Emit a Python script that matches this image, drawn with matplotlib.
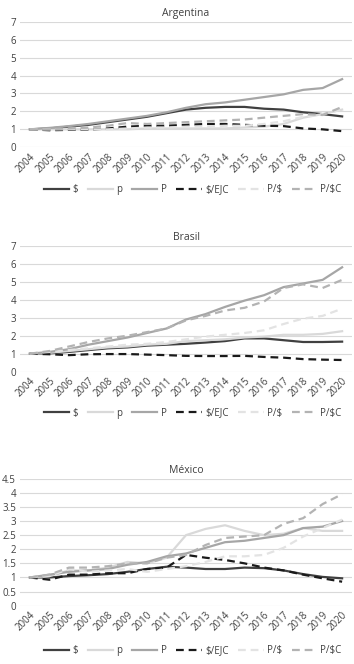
import matplotlib.pyplot as plt

plt.rcParams['font.family'] = ['Open Sans', 'DejaVu Sans']

years = [str(y) for y in range(2004, 2021)]
labels = ['$', 'p', 'P', '$/EJC', 'P/$', 'P/$C']

# Argentina
arg_dol = [1.0, 1.05, 1.15, 1.25, 1.4, 1.55, 1.7, 1.9, 2.1, 2.2, 2.25, 2.25, 2.15, 2.1, 1.95, 1.85, 1.72]
arg_p = [1.0, 1.0, 1.0, 1.0, 1.0, 1.0, 1.05, 1.05, 1.05, 1.05, 1.05, 1.1, 1.15, 1.3, 1.65, 1.85, 2.1]
arg_P = [1.0, 1.08, 1.18, 1.3, 1.45, 1.6, 1.75, 1.95, 2.2, 2.4, 2.5, 2.65, 2.8, 2.95, 3.2, 3.3, 3.8]
arg_ejc = [1.0, 0.95, 0.97, 0.98, 1.05, 1.15, 1.2, 1.2, 1.25, 1.3, 1.3, 1.25, 1.2, 1.18, 1.05, 1.0, 0.9]
arg_pd = [1.0, 1.0, 1.0, 1.0, 1.0, 1.05, 1.1, 1.1, 1.15, 1.15, 1.2, 1.2, 1.3, 1.45, 1.7, 1.85, 2.1]
arg_pdc = [1.0, 1.0, 1.05, 1.1, 1.2, 1.35, 1.3, 1.35, 1.4, 1.45, 1.5, 1.55, 1.65, 1.75, 1.85, 1.8, 2.25]

# Brasil
bra_dol = [1.0, 1.02, 1.1, 1.2, 1.3, 1.35, 1.45, 1.5, 1.55, 1.62, 1.7, 1.85, 1.85, 1.75, 1.65, 1.65, 1.67]
bra_p = [1.0, 1.05, 1.15, 1.25, 1.35, 1.4, 1.5, 1.55, 1.7, 1.75, 1.8, 1.9, 1.95, 2.05, 2.05, 2.1, 2.25]
bra_P = [1.0, 1.1, 1.25, 1.5, 1.7, 1.9, 2.15, 2.4, 2.9, 3.2, 3.6, 3.95, 4.25, 4.7, 4.9, 5.1, 5.8]
bra_ejc = [1.0, 0.97, 0.92, 0.97, 0.98, 0.98, 0.95, 0.92, 0.88, 0.87, 0.87, 0.88, 0.82, 0.78, 0.7, 0.67, 0.65]
bra_pd = [1.0, 1.1, 1.2, 1.3, 1.4, 1.5, 1.55, 1.65, 1.8, 1.95, 2.05, 2.15, 2.3, 2.65, 2.95, 3.1, 3.5]
bra_pdc = [1.0, 1.15, 1.4, 1.65, 1.85, 2.0, 2.2, 2.4, 2.85, 3.1, 3.4, 3.55, 3.9, 4.65, 4.85, 4.65, 5.1]

# México
mex_dol = [1.0, 1.0, 1.05, 1.08, 1.12, 1.2, 1.3, 1.38, 1.35, 1.3, 1.3, 1.35, 1.33, 1.25, 1.12, 1.02, 0.97]
mex_p = [1.0, 1.05, 1.25, 1.25, 1.35, 1.55, 1.5, 1.7, 2.5, 2.72, 2.85, 2.65, 2.5, 2.55, 2.75, 2.65, 2.65]
mex_P = [1.0, 1.1, 1.2, 1.25, 1.3, 1.45, 1.55, 1.75, 1.85, 2.05, 2.25, 2.3, 2.4, 2.5, 2.75, 2.8, 3.0]
mex_ejc = [1.0, 0.92, 1.1, 1.1, 1.15, 1.15, 1.3, 1.35, 1.8, 1.7, 1.62, 1.5, 1.35, 1.25, 1.1, 0.97, 0.85]
mex_pd = [1.0, 1.05, 1.3, 1.2, 1.25, 1.3, 1.2, 1.3, 1.4, 1.55, 1.75, 1.75, 1.8, 2.05, 2.45, 2.75, 3.05]
mex_pdc = [1.0, 1.1, 1.35, 1.35, 1.4, 1.5, 1.5, 1.7, 1.8, 2.15, 2.4, 2.45, 2.5, 2.9, 3.1, 3.6, 3.95]

colors = ['#404040', '#d9d9d9', '#a6a6a6', '#1a1a1a', '#e3e3e3', '#b3b3b3']
styles = ['-', '-', '-', '--', '--', '--']

panels = [
    ('Argentina', [arg_dol, arg_p, arg_P, arg_ejc, arg_pd, arg_pdc], 7, 1, 0.7782, 0.9673, 0.714),
    ('Brasil', [bra_dol, bra_p, bra_P, bra_ejc, bra_pd, bra_pdc], 7, 1, 0.4402, 0.6300, 0.378),
    ('México', [mex_dol, mex_p, mex_P, mex_ejc, mex_pd, mex_pdc], 4.5, 0.5, 0.0878, 0.2791, 0.020),
]

fig = plt.figure(figsize=(3.54, 6.64), dpi=100)

for title, series, ymax, step, bot, top, legy in panels:
    ax = fig.add_axes([0.057, bot, 0.937, top - bot])
    x = range(len(years))
    for vals, c, ls, lab in zip(series, colors, styles, labels):
        line, = ax.plot(x, vals, color=c, linestyle=ls, linewidth=1.6, label=lab)
        if ls == '--':
            line.set_dashes((3.5, 2.2))
    ax.set_xlim(-0.5, len(years) - 0.5)
    ax.set_ylim(0, ymax)
    ticks = [i * step for i in range(int(round(ymax / step)) + 1)]
    ax.set_yticks(ticks)
    ax.set_yticklabels(['%g' % t for t in ticks])
    ax.set_xticks(list(x))
    ax.set_xticklabels(years, rotation=45, ha='right', rotation_mode='anchor')
    ax.grid(axis='y', color='#d9d9d9', linewidth=0.8)
    ax.set_axisbelow(True)
    for s in ax.spines.values():
        s.set_visible(False)
    ax.tick_params(length=0, labelsize=7, colors='#404040', pad=3)
    ax.set_title(title, fontsize=7.5, color='#404040', pad=4)
    ax.legend(loc='center', bbox_to_anchor=(0.52, (legy - bot) / (top - bot)),
              bbox_transform=ax.transAxes, ncol=6, frameon=False, fontsize=7,
              handlelength=2.6, handletextpad=0.35, columnspacing=1.0,
              labelcolor='#404040')

fig.savefig('out.png', dpi=100)
